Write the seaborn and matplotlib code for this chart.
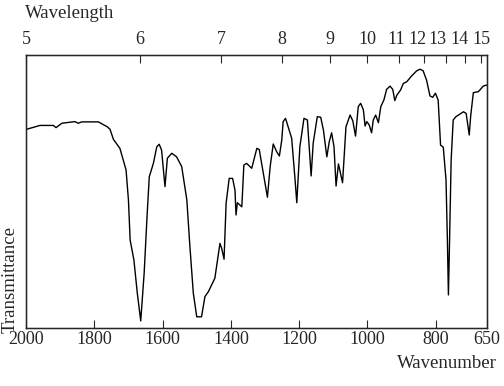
import numpy as np
import pandas as pd
import matplotlib
matplotlib.use("Agg")
import matplotlib.pyplot as plt
import matplotlib.transforms as mtransforms
import seaborn as sns

wavenumber = [1998, 1959, 1920, 1912, 1895, 1857, 1847, 1837, 1788, 1762, 1754, 1744, 1725,
              1707, 1700, 1695, 1684, 1674, 1664, 1654, 1645, 1639, 1627, 1617, 1610, 1603,
              1593, 1586, 1573, 1559, 1544, 1529, 1520, 1510, 1500, 1486, 1476, 1466, 1447,
              1442, 1432, 1427, 1420, 1414, 1405, 1395, 1388, 1385, 1381, 1368, 1362, 1354,
              1339, 1324, 1317, 1305, 1293, 1285, 1276, 1266, 1258, 1251, 1247, 1240, 1222,
              1212, 1207, 1198, 1186, 1176, 1165, 1159, 1147, 1137, 1129, 1119, 1112, 1105,
              1098, 1092, 1085, 1073, 1063, 1051, 1043, 1035, 1027, 1020, 1012, 1007, 1002,
              995, 988, 983, 976, 968, 961, 952, 944, 934, 926, 920, 914, 903, 895, 885, 871,
              856, 846, 837, 827, 817, 809, 801, 793, 786, 778, 770, 766, 763, 760, 755, 749,
              741, 719, 711, 702, 698, 690, 675, 661, 651]
transmittance = [72.8, 74.2, 74.2, 73.4, 75.0, 75.6, 75.0, 75.5, 75.5, 73.7, 72.8, 69.1, 65.8,
                 57.9, 46.9, 32.2, 24.9, 12.7, 2.6, 20.1, 42.1, 55.4, 60.3, 66.4, 67.3, 65.2,
                 51.8, 62.2, 64.0, 62.7, 59.1, 46.9, 29.8, 12.7, 4.1, 4.1, 11.5, 13.3, 18.2,
                 22.5, 31.0, 29.2, 25.2, 45.7, 54.8, 54.8, 50.5, 41.4, 45.9, 44.4, 59.7, 60.3,
                 58.5, 65.8, 65.4, 56.7, 47.9, 59.1, 67.4, 64.6, 63.0, 68.9, 75.6, 76.8, 69.5,
                 54.2, 45.9, 66.4, 76.8, 76.2, 55.7, 67.7, 77.4, 77.2, 72.5, 62.7, 68.2, 71.5,
                 66.4, 52.0, 60.1, 53.2, 73.7, 78.0, 75.9, 70.3, 81.1, 82.3, 79.9, 74.0, 75.6,
                 74.4, 71.5, 76.2, 78.0, 75.2, 81.1, 83.5, 87.4, 88.6, 87.4, 83.3, 85.3, 87.2,
                 89.6, 90.2, 92.3, 94.2, 94.8, 94.2, 90.8, 85.0, 84.5, 86.0, 83.5, 67.0, 66.2,
                 54.2, 32.2, 12.1, 29.8, 61.5, 76.2, 77.4, 79.2, 78.6, 70.7, 77.4, 86.2, 86.6,
                 88.6, 89.0]

wn_ticks = [2000, 1800, 1600, 1400, 1200, 1000, 800, 650]
wl_ticks = [5, 6, 7, 8, 9, 10, 11, 12, 13, 14, 15]

sns.set_style("white")
plt.rcParams['font.family'] = ['Liberation Serif', 'DejaVu Serif']

df = pd.DataFrame({"wavenumber": wavenumber, "transmittance": transmittance})

fig = plt.figure(figsize=(5.04, 3.86), dpi=100)
ax = fig.add_axes([26/504, 1-328/386, (487-26)/504, (328-55)/386])
sns.lineplot(data=df, x="wavenumber", y="transmittance", ax=ax, color="black",
             linewidth=1.0, sort=False, estimator=None)
ax.set_xlim(2000, 650)
ax.set_ylim(0, 100)
ax.set_xlabel("")
ax.set_ylabel("")
ax.set_yticks([])
ax.set_xticks(wn_ticks)
ax.set_xticklabels([str(t) for t in wn_ticks], fontsize=13)
ax.tick_params(axis='x', direction='in', length=6, width=0.8, pad=2, bottom=True)
for s in ax.spines.values():
    s.set_linewidth(1.0)
    s.set_color("black")

ax2 = ax.twiny()
ax2.set_xlim(ax.get_xlim())
ax2.set_xticks([1e4 / w for w in wl_ticks])
ax2.set_xticklabels([str(w) for w in wl_ticks], fontsize=13)
ax2.tick_params(axis='x', direction='in', length=6, width=0.8, pad=5, top=True)
ax2.set_yticks([])

# crowded wavelength labels are nudged left, as in the original print
shifts_px = [0, 0, 0, 0, 0, 0, -2.5, -6.5, -8.5, -5.5, 0]
for lbl, dx in zip(ax2.get_xticklabels(), shifts_px):
    if dx:
        lbl.set_transform(lbl.get_transform() +
                          mtransforms.ScaledTranslation(dx / 100, 0, fig.dpi_scale_trans))

fig.text(25/504, 1-14/386, "Wavelength", ha='left', va='center', fontsize=13.5)
fig.text(497/504, 1-364/386, "Wavenumber", ha='right', va='center', fontsize=13.5)
fig.text(10/504, 1-333/386, "Transmittance", ha='center', va='bottom', rotation=90, fontsize=13.5)

fig.savefig("out.png", dpi=100)
